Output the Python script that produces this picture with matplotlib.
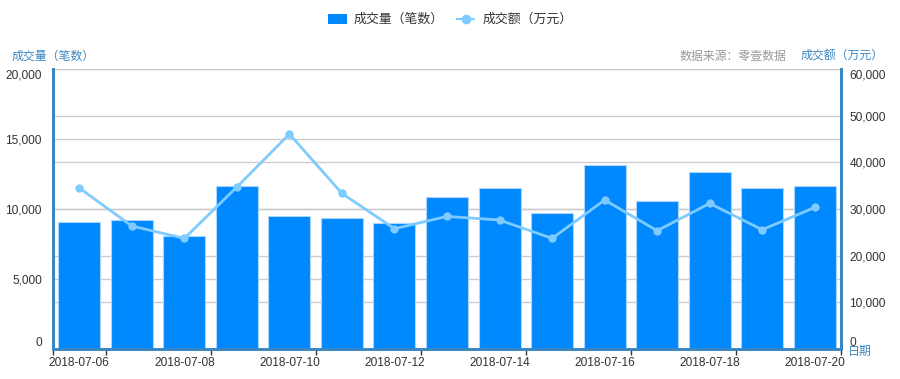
import numpy as np
import matplotlib
matplotlib.use('Agg')
import matplotlib.pyplot as plt
from matplotlib.patches import Patch
from matplotlib.lines import Line2D

plt.rcParams['font.family'] = ['Liberation Sans', 'Noto Sans CJK SC']

# ---------------------------------------------------------------------------
dates = ['2018-07-06', '2018-07-07', '2018-07-08', '2018-07-09', '2018-07-10',
         '2018-07-11', '2018-07-12', '2018-07-13', '2018-07-14', '2018-07-15',
         '2018-07-16', '2018-07-17', '2018-07-18', '2018-07-19', '2018-07-20']
volume = [9090, 9190, 8040, 11660, 9470, 9360, 8970, 10860, 11520, 9710,
          13110, 10540, 12640, 11470, 11610]          # 成交量（笔数）
amount = [34500, 26360, 23700, 34710, 46070, 33340, 25780, 28410, 27640, 23700,
          31930, 25350, 31200, 25560, 30340]          # 成交额（万元）
left_ticks = [0, 5000, 10000, 15000, 20000]
right_ticks = [0, 10000, 20000, 30000, 40000, 50000, 60000]
# ---------------------------------------------------------------------------

bar_color = '#0088ff'
line_color = '#7ecbff'
axis_color = '#3a87c3'
grid_color = '#cccccc'
text_color = '#333333'

fig = plt.figure(figsize=(9, 3.79), dpi=100)
ax = fig.add_axes([53/900, 30/379, 788/900, 280/379])
ax2 = ax.twinx()

x = np.arange(len(dates))
ax.bar(x, volume, width=0.8, color=bar_color, edgecolor='#a8d6ff', linewidth=0.8, zorder=3)
ax2.plot(x, amount, '-o', color=line_color, lw=2, markersize=5, zorder=4)

ax.set_xlim(-0.5, len(dates) - 0.5)
ax.set_ylim(0, 20000)
ax2.set_ylim(0, 60000)

# grid lines of both axes, drawn under the bars
ax.hlines(left_ticks[1:], 0, 1, transform=ax.get_yaxis_transform(), color=grid_color, lw=1, zorder=1)
ax.hlines(np.array(right_ticks[1:]) / 3, 0, 1, transform=ax.get_yaxis_transform(), color=grid_color, lw=1, zorder=1)

# x axis: labels on every other bar, tick marks on bar boundaries
ax.set_xticks(x[::2])
ax.set_xticklabels(dates[::2], fontsize=8.6, color=text_color)
ax.set_xticks([-0.5] + list(np.arange(0.5, len(dates), 2)), minor=True)
ax.tick_params(axis='x', which='major', length=0, pad=6)
ax.tick_params(axis='x', which='minor', length=4, width=1, color=text_color)

ax.set_yticks(left_ticks)
ax.set_yticklabels([f'{v:,}' for v in left_ticks], fontsize=8.6, color=text_color)
ax.tick_params(axis='y', length=0, pad=8)
ax2.set_yticks(right_ticks)
ax2.set_yticklabels([f'{v:,}' for v in right_ticks], fontsize=8.6, color=text_color)
ax2.tick_params(axis='y', length=0, pad=6)
for a in (ax, ax2):
    labs = a.get_yticklabels()
    labs[0].set_va('bottom')
    labs[-1].set_va('top')

for a in (ax, ax2):
    a.spines['top'].set_visible(False)
    for s in ('left', 'right', 'bottom'):
        a.spines[s].set_color(axis_color)
        a.spines[s].set_linewidth(2)

# axis titles
fig.text(12/900, 1 - 57/379, '成交量（笔数）', fontsize=8.6, color=axis_color, va='center', ha='left')
fig.text(786/900, 1 - 57/379, '数据来源：零壹数据', fontsize=8.6, color='#999999', va='center', ha='right')
fig.text(801/900, 1 - 57/379, '成交额（万元）', fontsize=8.6, color=axis_color, va='center', ha='left')
fig.text(848/900, 1 - 352/379, '日期', fontsize=8.6, color=axis_color, va='center', ha='left')

# legend
handles = [Patch(facecolor=bar_color, edgecolor='none'),
           Line2D([], [], color=line_color, lw=1.5, ls='--', marker='o', markersize=6)]
fig.legend(handles, ['成交量（笔数）', '成交额（万元）'], loc='center', bbox_to_anchor=(0.5, 1 - 20/379),
           ncol=2, frameon=False, fontsize=9.3, handlelength=1.5, handleheight=0.8,
           columnspacing=1.0, handletextpad=0.5, labelcolor=text_color)

fig.savefig('out.png', dpi=100)
